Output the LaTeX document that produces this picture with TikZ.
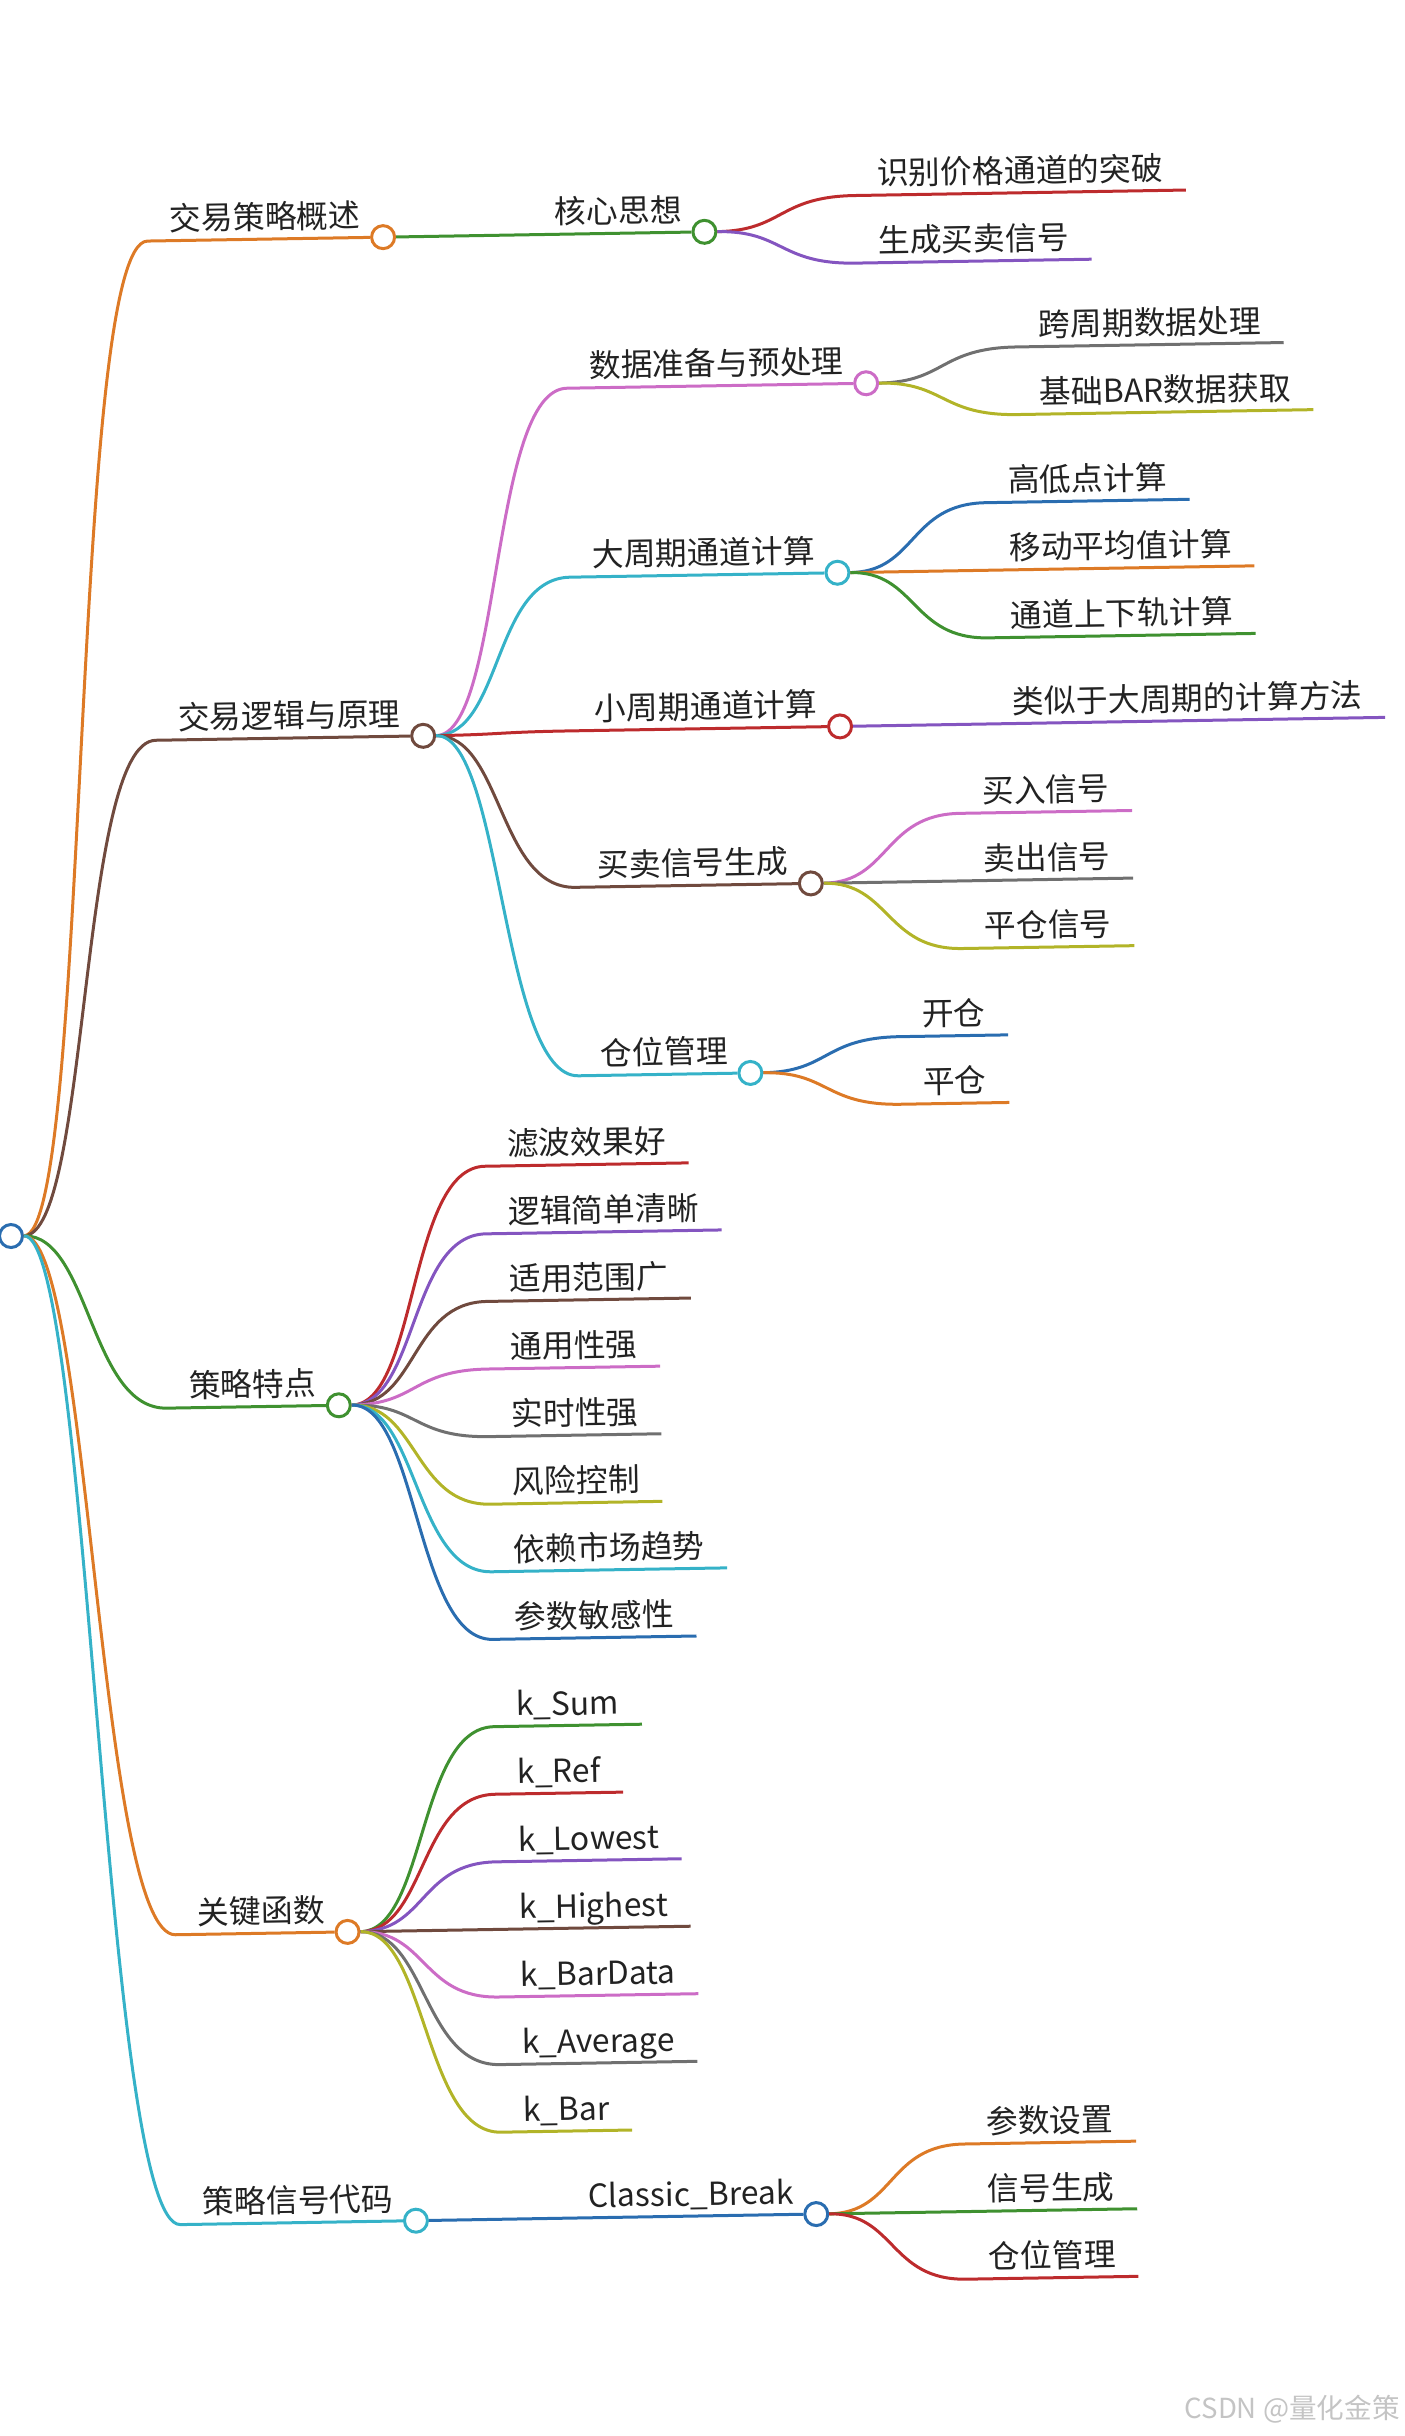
\documentclass[tikz,border=0pt]{standalone}
\usepackage{fontspec}
\newfontfamily\cjk{Noto Sans CJK SC}
\usepackage{tikz}
\definecolor{ink}{HTML}{222222}
\definecolor{mblue}{HTML}{2A6DB0}
\definecolor{morange}{HTML}{DD7A26}
\definecolor{mgreen}{HTML}{3F9130}
\definecolor{mred}{HTML}{BD2B2D}
\definecolor{mpurple}{HTML}{8455C0}
\definecolor{mbrown}{HTML}{704A3E}
\definecolor{mpink}{HTML}{CC6CC6}
\definecolor{mgray}{HTML}{707070}
\definecolor{molive}{HTML}{B2B428}
\definecolor{mcyan}{HTML}{35B2C8}
\definecolor{wmgray}{HTML}{C4C4C4}

\begin{document}
\begin{tikzpicture}[x=0.5pt,y=0.5pt,
lbl/.style={anchor=south west,inner xsep=11pt,inner ysep=0pt,text depth=5pt,text=ink,font=\cjk\fontsize{15.9}{18}\selectfont},
dot/.style={circle,draw=#1,fill=white,line width=1.5pt,minimum size=11.5pt,inner sep=0pt},
link/.style={draw=#1,line width=1.5pt}]
\useasboundingbox (0,0) rectangle (1404,-2436);
\begin{scope}[shift={(11,-1236)},rotate=0.95,transform shape]
\node[dot=mblue] (root) at (0,0) {};

\node[lbl] (overview) at (153,992.6) {交易策略概述};
\node[dot=morange] (overview-d) at (overview.south east) {};
\node[lbl] (logic) at (153,493.3) {交易逻辑与原理};
\node[dot=mbrown] (logic-d) at (logic.south east) {};
\node[lbl] (feature) at (153,-174.7) {策略特点};
\node[dot=mgreen] (feature-d) at (feature.south east) {};
\node[lbl] (func) at (153,-701.4) {关键函数};
\node[dot=morange] (func-d) at (func.south east) {};
\node[lbl] (code) at (153,-991.3) {策略信号代码};
\node[dot=mcyan] (code-d) at (code.south east) {};

\node[lbl] (idea) at (538,992.6) {核心思想};
\node[dot=mgreen] (idea-d) at (idea.south east) {};
\node[lbl] (idea1) at (861,1026.4) {识别价格通道的突破};
\node[lbl] (idea2) at (861,958.8) {生成买卖信号};

\node[lbl] (prep) at (570,838.5) {数据准备与预处理};
\node[dot=mpink] (prep-d) at (prep.south east) {};
\node[lbl] (prep1) at (1020,872.3) {跨周期数据处理};
\node[lbl] (prep2) at (1020,804.7) {基础BAR数据获取};
\node[lbl] (bigch) at (570,649.5) {大周期通道计算};
\node[dot=mcyan] (bigch-d) at (bigch.south east) {};
\node[lbl] (big1) at (987,717.1) {高低点计算};
\node[lbl] (big2) at (987,649.5) {移动平均值计算};
\node[lbl] (big3) at (987,581.9) {通道上下轨计算};
\node[lbl] (smallch) at (570,495.8) {小周期通道计算};
\node[dot=mred] (smallch-d) at (smallch.south east) {};
\node[lbl] (small1) at (988,495.8) {类似于大周期的计算方法};
\node[lbl] (signal) at (570,339.3) {买卖信号生成};
\node[dot=mbrown] (signal-d) at (signal.south east) {};
\node[lbl] (sig1) at (956,406.9) {买入信号};
\node[lbl] (sig2) at (956,339.3) {卖出信号};
\node[lbl] (sig3) at (956,271.7) {平仓信号};
\node[lbl] (pos) at (570,150.8) {仓位管理};
\node[dot=mcyan] (pos-d) at (pos.south east) {};
\node[lbl] (pos1) at (892,184.6) {开仓};
\node[lbl] (pos2) at (892,117.0) {平仓};

\node[lbl] (feat1) at (475,61.9) {滤波效果好};
\node[lbl] (feat2) at (475,-5.7) {逻辑简单清晰};
\node[lbl] (feat3) at (475,-73.3) {适用范围广};
\node[lbl] (feat4) at (475,-140.9) {通用性强};
\node[lbl] (feat5) at (475,-208.5) {实时性强};
\node[lbl] (feat6) at (475,-276.1) {风险控制};
\node[lbl] (feat7) at (475,-343.7) {依赖市场趋势};
\node[lbl] (feat8) at (475,-411.3) {参数敏感性};

\node[lbl] (k1) at (475,-498.6) {k\_Sum};
\node[lbl] (k2) at (475,-566.2) {k\_Ref};
\node[lbl] (k3) at (475,-633.8) {k\_Lowest};
\node[lbl] (k4) at (475,-701.4) {k\_Highest};
\node[lbl] (k5) at (475,-769.0) {k\_BarData};
\node[lbl] (k6) at (475,-836.6) {k\_Average};
\node[lbl] (k7) at (475,-904.2) {k\_Bar};

\node[lbl] (classic) at (539,-991.3) {Classic\_Break};
\node[dot=mblue] (classic-d) at (classic.south east) {};
\node[lbl] (cb1) at (938,-923.7) {参数设置};
\node[lbl] (cb2) at (938,-991.3) {信号生成};
\node[lbl] (cb3) at (938,-1058.9) {仓位管理};

\draw[link=morange] (root.east) .. controls +(66,0) and +(-77,0) .. (overview.south west) -- (overview-d.west);
\draw[link=mbrown] (root.east) .. controls +(66,0) and +(-77,0) .. (logic.south west) -- (logic-d.west);
\draw[link=mgreen] (root.east) .. controls +(66,0) and +(-77,0) .. (feature.south west) -- (feature-d.west);
\draw[link=morange] (root.east) .. controls +(66,0) and +(-77,0) .. (func.south west) -- (func-d.west);
\draw[link=mcyan] (root.east) .. controls +(66,0) and +(-77,0) .. (code.south west) -- (code-d.west);

\draw[link=mgreen] (overview-d.east) -- (idea-d.west);
\draw[link=mred] (idea-d.east) .. controls +(66,0) and +(-77,0) .. (idea1.south west) -- (idea1.south east);
\draw[link=mpurple] (idea-d.east) .. controls +(66,0) and +(-77,0) .. (idea2.south west) -- (idea2.south east);

\draw[link=mpink] (logic-d.east) .. controls +(66,0) and +(-77,0) .. (prep.south west) -- (prep-d.west);
\draw[link=mcyan] (logic-d.east) .. controls +(66,0) and +(-77,0) .. (bigch.south west) -- (bigch-d.west);
\draw[link=mred] (logic-d.east) .. controls +(66,0) and +(-77,0) .. (smallch.south west) -- (smallch-d.west);
\draw[link=mbrown] (logic-d.east) .. controls +(66,0) and +(-77,0) .. (signal.south west) -- (signal-d.west);
\draw[link=mcyan] (logic-d.east) .. controls +(66,0) and +(-77,0) .. (pos.south west) -- (pos-d.west);
\draw[link=mgray] (prep-d.east) .. controls +(66,0) and +(-77,0) .. (prep1.south west) -- (prep1.south east);
\draw[link=molive] (prep-d.east) .. controls +(66,0) and +(-77,0) .. (prep2.south west) -- (prep2.south east);
\draw[link=mblue] (bigch-d.east) .. controls +(66,0) and +(-77,0) .. (big1.south west) -- (big1.south east);
\draw[link=morange] (bigch-d.east) .. controls +(66,0) and +(-77,0) .. (big2.south west) -- (big2.south east);
\draw[link=mgreen] (bigch-d.east) .. controls +(66,0) and +(-77,0) .. (big3.south west) -- (big3.south east);
\draw[link=mpurple] (smallch-d.east) -- (small1.south west) -- (small1.south east);
\draw[link=mpink] (signal-d.east) .. controls +(66,0) and +(-77,0) .. (sig1.south west) -- (sig1.south east);
\draw[link=mgray] (signal-d.east) .. controls +(66,0) and +(-77,0) .. (sig2.south west) -- (sig2.south east);
\draw[link=molive] (signal-d.east) .. controls +(66,0) and +(-77,0) .. (sig3.south west) -- (sig3.south east);
\draw[link=mblue] (pos-d.east) .. controls +(66,0) and +(-77,0) .. (pos1.south west) -- (pos1.south east);
\draw[link=morange] (pos-d.east) .. controls +(66,0) and +(-77,0) .. (pos2.south west) -- (pos2.south east);

\draw[link=mred] (feature-d.east) .. controls +(66,0) and +(-77,0) .. (feat1.south west) -- (feat1.south east);
\draw[link=mpurple] (feature-d.east) .. controls +(66,0) and +(-77,0) .. (feat2.south west) -- (feat2.south east);
\draw[link=mbrown] (feature-d.east) .. controls +(66,0) and +(-77,0) .. (feat3.south west) -- (feat3.south east);
\draw[link=mpink] (feature-d.east) .. controls +(66,0) and +(-77,0) .. (feat4.south west) -- (feat4.south east);
\draw[link=mgray] (feature-d.east) .. controls +(66,0) and +(-77,0) .. (feat5.south west) -- (feat5.south east);
\draw[link=molive] (feature-d.east) .. controls +(66,0) and +(-77,0) .. (feat6.south west) -- (feat6.south east);
\draw[link=mcyan] (feature-d.east) .. controls +(66,0) and +(-77,0) .. (feat7.south west) -- (feat7.south east);
\draw[link=mblue] (feature-d.east) .. controls +(66,0) and +(-77,0) .. (feat8.south west) -- (feat8.south east);

\draw[link=mgreen] (func-d.east) .. controls +(66,0) and +(-77,0) .. (k1.south west) -- (k1.south east);
\draw[link=mred] (func-d.east) .. controls +(66,0) and +(-77,0) .. (k2.south west) -- (k2.south east);
\draw[link=mpurple] (func-d.east) .. controls +(66,0) and +(-77,0) .. (k3.south west) -- (k3.south east);
\draw[link=mbrown] (func-d.east) -- (k4.south west) -- (k4.south east);
\draw[link=mpink] (func-d.east) .. controls +(66,0) and +(-77,0) .. (k5.south west) -- (k5.south east);
\draw[link=mgray] (func-d.east) .. controls +(66,0) and +(-77,0) .. (k6.south west) -- (k6.south east);
\draw[link=molive] (func-d.east) .. controls +(66,0) and +(-77,0) .. (k7.south west) -- (k7.south east);

\draw[link=mblue] (code-d.east) -- (classic-d.west);
\draw[link=morange] (classic-d.east) .. controls +(66,0) and +(-77,0) .. (cb1.south west) -- (cb1.south east);
\draw[link=mgreen] (classic-d.east) -- (cb2.south west) -- (cb2.south east);
\draw[link=mred] (classic-d.east) .. controls +(66,0) and +(-77,0) .. (cb3.south west) -- (cb3.south east);
\end{scope}
\node[anchor=base east,inner sep=0pt,text=wmgray,font=\cjk\fontsize{13.8}{16}\selectfont] (mark) at (1400,-2418) {CSDN @量化金策};
\end{tikzpicture}
\end{document}
